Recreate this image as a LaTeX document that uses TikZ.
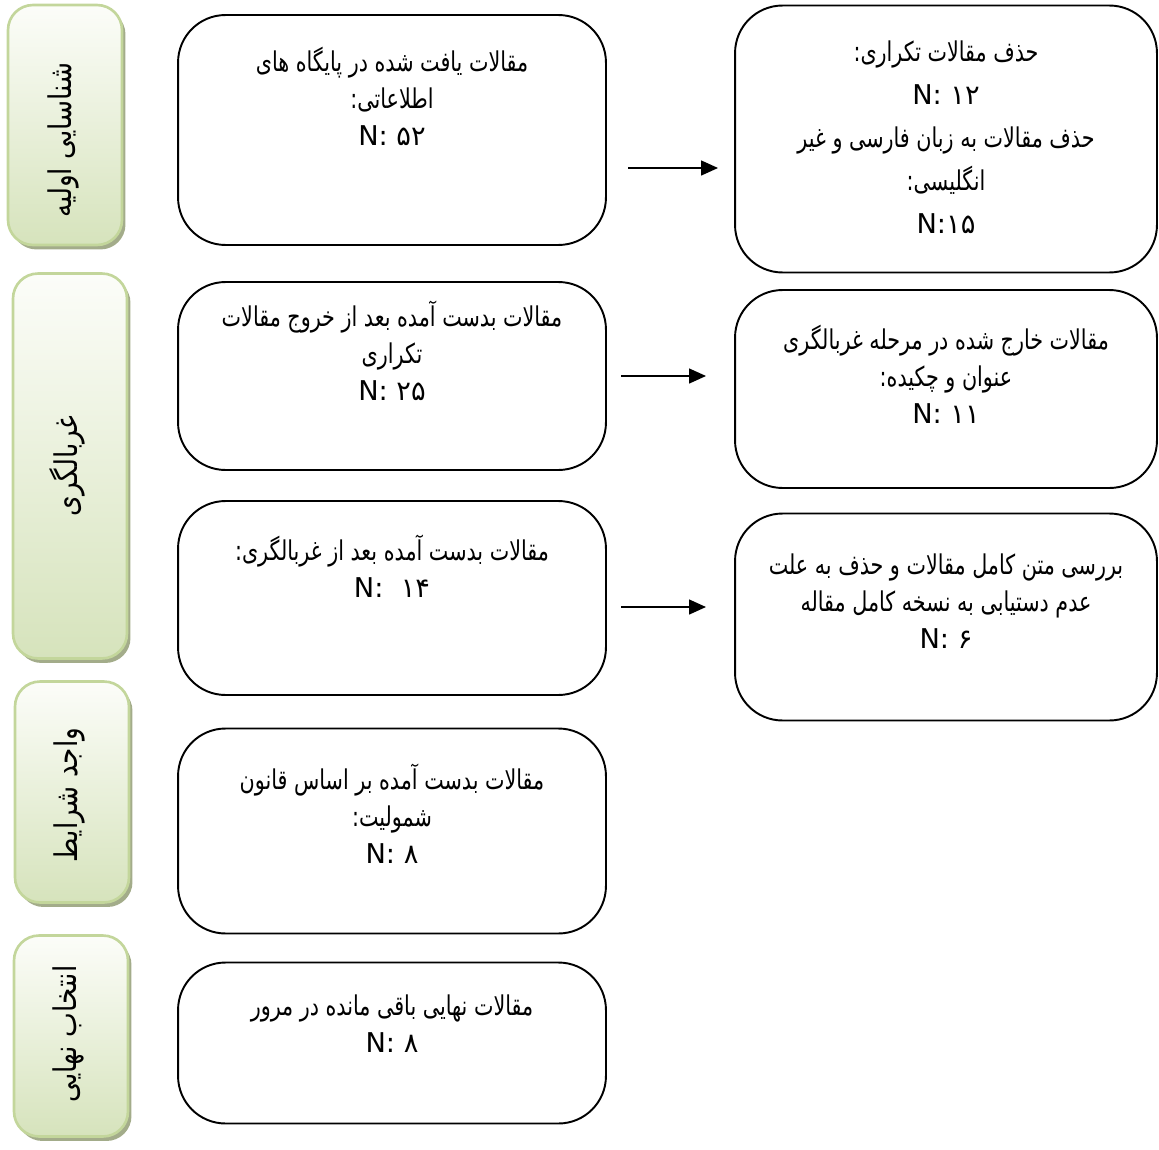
\documentclass[tikz,border=0pt]{standalone}
\usepackage{fontspec}
\setmainfont{DejaVu Sans}
\newfontfamily\farsi[Script=Arabic,FakeStretch=0.76]{DejaVu Sans}
\newfontfamily\farsiside[Script=Arabic,FakeStretch=0.84]{DejaVu Sans}
\TeXXeTstate=1
\usepackage{tikz}
\usetikzlibrary{arrows.meta,positioning,shadows}

\definecolor{barTop}{HTML}{FCFDF9}
\definecolor{barBot}{HTML}{D6E3BC}
\definecolor{barEdge}{HTML}{C3D69B}
\definecolor{barShade}{HTML}{A3AC8A}

\newcommand{\fa}[1]{{\farsi\beginR #1\endR}}

\tikzset{
  box/.style={draw=black, line width=1.1pt, rounded corners=0.95cm, minimum width=8.56cm},
  rbox/.style={box, minimum width=8.44cm},
  txt/.style={font=\fontsize{15.5}{21}\selectfont, align=center, inner sep=0pt},
  stage/.style={draw=barEdge, line width=1.5pt, rounded corners=0.5cm,
    top color=barTop, bottom color=barBot, minimum width=2.28cm,
    drop shadow={shadow xshift=0.07cm, shadow yshift=-0.09cm, fill=barShade, opacity=1}},
  stagetxt/.style={font=\farsiside\fontsize{17.8}{22}\selectfont, rotate=90, inner sep=0pt},
  flow/.style={-{Triangle[length=0.34cm,width=0.3cm]}, line width=0.85pt}
}

\begin{document}
\begin{tikzpicture}[x=0.02cm,y=-0.02cm]

\useasboundingbox (0,0) rectangle (1159,1149);

% STAGES
  \node[stage, minimum height=4.8cm] (g1) at (65,125) {};
  \node[stagetxt] (g1t) at (63,140) {\beginR شناسایی اولیه\endR};
  \node[stage, minimum height=7.7cm] (g2) at (70,466) {};
  \node[stagetxt] (g2t) at (67,466) {\beginR غربالگری\endR};
  \node[stage, minimum height=4.42cm] (g3) at (72,792) {};
  \node[stagetxt] (g3t) at (69,795) {\beginR واجد شرایط\endR};
  \node[stage, minimum height=4.02cm] (g4) at (71,1036) {};
  \node[stagetxt] (g4t) at (68,1034) {\beginR انتخاب نهایی\endR};

% LEFT COLUMN
  \node[box, minimum height=4.6cm] (l1) at (392,130) {};
  \node[txt] (l1t) at (392,96) {\fa{مقالات یافت شده در پایگاه های}\\
    \fa{اطلاعاتی:}\\ N: ۵۲};

  \node[box, minimum height=3.76cm] (l2) at (392,376) {};
  \node[txt] (l2t) at (392,351) {\fa{مقالات بدست آمده بعد از خروج مقالات}\\
    \fa{تکراری}\\ N: ۲۵};

  \node[box, minimum height=3.88cm] (l3) at (392,598) {};
  \node[txt] (l3t) at (392,566) {\fa{مقالات بدست آمده بعد از غربالگری:}\\ N:~~۱۴};

  \node[box, minimum height=4.1cm] (l4) at (392,831) {};
  \node[txt] (l4t) at (392,814) {\fa{مقالات بدست آمده بر اساس قانون}\\
    \fa{شمولیت:}\\ N: ۸};

  \node[box, minimum height=3.22cm] (l5) at (392,1043) {};
  \node[txt] (l5t) at (392,1024) {\fa{مقالات نهایی باقی مانده در مرور}\\ N: ۸};

% RIGHT COLUMN
  \node[rbox, minimum height=5.34cm] (r1) at (946,139) {};
  \node[txt] (r1t) at (946,137) {\fa{حذف مقالات تکراری:}\\[3.4pt]
    N: ۱۲\\[3.4pt]
    \fa{حذف مقالات به زبان فارسی و غیر}\\[3.4pt]
    \fa{انگلیسی:}\\[3.4pt] N:۱۵};

  \node[rbox, minimum height=3.96cm] (r2) at (946,389) {};
  \node[txt] (r2t) at (946,374) {\fa{مقالات خارج شده در مرحله غربالگری}\\
    \fa{عنوان و چکیده:}\\ N: ۱۱};

  \node[rbox, minimum height=4.14cm] (r3) at (946,617) {};
  \node[txt] (r3t) at (946,601) {\fa{بررسی متن کامل مقالات و حذف به علت}\\
    \fa{عدم دستیابی به نسخه کامل مقاله}\\ N: ۶};

% ARROWS
  \coordinate (a1s) at (628,168);
  \coordinate (a1e) at (718,168);
  \coordinate (a2s) at (621,376);
  \coordinate (a2e) at (706,376);
  \coordinate (a3s) at (621,607);
  \coordinate (a3e) at (706,607);
  \draw[flow] (a1s) -- (a1e);
  \draw[flow] (a2s) -- (a2e);
  \draw[flow] (a3s) -- (a3e);

\end{tikzpicture}
\end{document}
